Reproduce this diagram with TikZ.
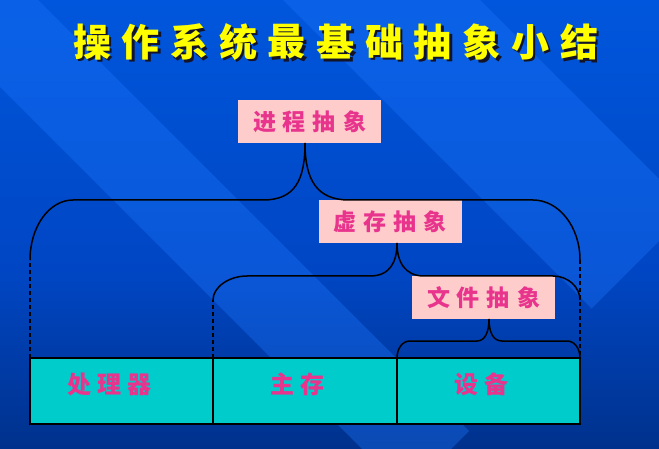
\documentclass[tikz,border=0pt]{standalone}
\usepackage{fontspec}
\newfontfamily\cjk{Noto Sans CJK SC}
\usetikzlibrary{calc}

\definecolor{bgtop}{RGB}{0,100,240}
\definecolor{bgmid}{RGB}{0,70,196}
\definecolor{bgbot}{RGB}{0,24,70}
\definecolor{bandblue}{RGB}{30,120,255}
\definecolor{boxpink}{RGB}{255,204,204}
\definecolor{txtpink}{RGB}{232,52,140}
\definecolor{devcyan}{RGB}{0,204,204}
\definecolor{titleyellow}{RGB}{255,255,0}
\definecolor{titleshade}{RGB}{20,20,40}

\pgfdeclareverticalshading{bgshade}{100bp}{color(0bp)=(bgbot); color(45bp)=(bgmid); color(100bp)=(bgtop)}

\tikzset{
  band/.style={fill=bandblue, fill opacity=0.35, draw=none},
  titletext/.style={font=\cjk\bfseries\fontsize{38}{38}\selectfont, text=titleyellow, inner sep=0pt},
  titleshadow/.style={font=\cjk\bfseries\fontsize{38}{38}\selectfont, text=titleshade, inner sep=0pt},
  absbox/.style={fill=boxpink, minimum width=143pt, minimum height=43pt, inner sep=0pt,
    font=\cjk\bfseries\fontsize{23}{23}\selectfont, text=txtpink},
  devbox/.style={draw=black, line width=1.5pt, fill=devcyan, minimum height=66pt, inner sep=0pt, outer sep=0pt},
  devlabel/.style={font=\cjk\bfseries\fontsize{24}{24}\selectfont, text=txtpink, inner sep=0pt},
  brace/.style={draw=black, line width=1.5pt},
  bracedash/.style={draw=black, line width=1.5pt, dash pattern=on 4pt off 3pt},
}

\begin{document}
\begin{tikzpicture}[x=1pt, y=-1pt]
  \useasboundingbox (0,0) rectangle (659,449);

  % background with diagonal light stripes
  \fill[shading=bgshade] (0,0) rectangle (659,449);
  \begin{scope}
    \clip (0,0) rectangle (659,449);
    \fill[band] (-137,-50) -- (-12,-50) -- (469,431) -- (406.5,493.5) -- cycle;
    \fill[band] (233,-50) -- (430,-50) -- (690,210) -- (591.5,308.5) -- cycle;
  \end{scope}

  % title with drop shadow, one character at a time
  \foreach \ch [count=\i from 0] in {操,作,系,统,最,基,础,抽,象,小,结} {
    \node[titleshadow] (ts\i) at (92+48.7*\i+2.5, 44.5) {\ch};
    \node[titletext] (t\i) at (92+48.7*\i, 42) {\ch};
  }

  % hardware row
  \node[devbox, minimum width=183pt] (d1) at (121.5,391) {};
  \node[devbox, minimum width=184pt] (d2) at (305,391) {};
  \node[devbox, minimum width=183pt] (d3) at (488.5,391) {};
  \node[devlabel] (l1) at (109,384) {处\hspace{6pt}理\hspace{6pt}器};
  \node[devlabel] (l2) at (297,384) {主\hspace{6pt}存};
  \node[devlabel] (l3) at (481,384) {设\hspace{6pt}备};

  % abstraction boxes
  \node[absbox] (p1) at (309.5,121.5) {进\hspace{7pt}程\hspace{7pt}抽\hspace{7pt}象};
  \node[absbox] (p2) at (390,222) {虚\hspace{7pt}存\hspace{7pt}抽\hspace{7pt}象};
  \node[absbox] (p3) at (483.5,297.5) {文\hspace{7pt}件\hspace{7pt}抽\hspace{7pt}象};

  % brace tips under each abstraction box
  \coordinate (tip1) at (305,143);
  \coordinate (tip2) at (397,243);
  \coordinate (tip3) at (489,319);

  % brace: process abstraction over processor, memory and devices
  \draw[bracedash] (d1.north west) -- (30,260);
  \draw[brace] (30,260) .. controls (30,227) and (49,200) .. (73,200) -- (263,200)
    .. controls (295,200) and (305,180) .. (tip1);
  \draw[brace] (tip1) .. controls (305,180) and (317,200) .. (349,200) -- (533,200)
    .. controls (559,200) and (580,227) .. (580,260);
  \draw[bracedash] (580,260) -- (d3.north east);

  % brace: virtual memory abstraction over memory and devices
  \draw[bracedash] (d2.north west) -- (213,300);
  \draw[brace] (213,300) .. controls (213,287) and (229,276) .. (247,276) -- (370,276)
    .. controls (390,276) and (397,262) .. (tip2);
  \draw[brace] (tip2) .. controls (397,262) and (405,276) .. (424,276) -- (553,276)
    .. controls (568,276) and (580,287) .. (580,300);

  % brace: file abstraction over devices
  \draw[brace] (d3.north west) .. controls (397,349) and (402,341) .. (410,341) -- (477,341)
    .. controls (485,341) and (489,332) .. (tip3);
  \draw[brace] (tip3) .. controls (489,332) and (493,341) .. (502,341) -- (567,341)
    .. controls (575,341) and (580,349) .. (d3.north east);
\end{tikzpicture}
\end{document}
